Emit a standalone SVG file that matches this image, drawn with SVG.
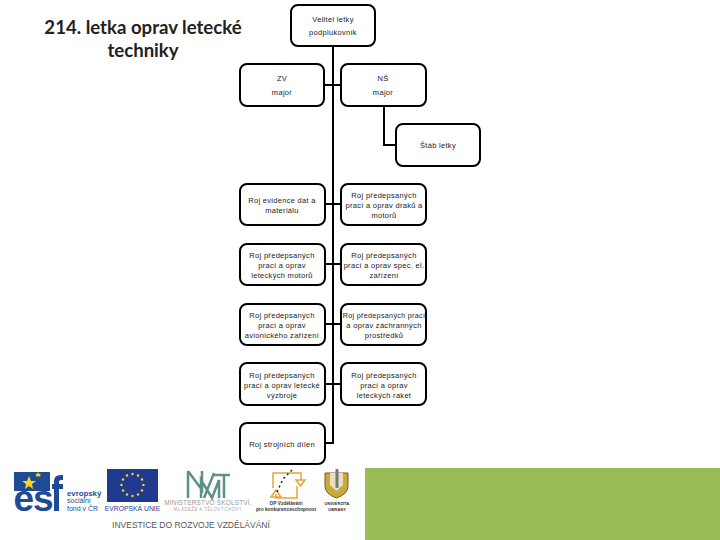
<svg xmlns="http://www.w3.org/2000/svg" width="720" height="540" viewBox="0 0 720 540">
<style>
.b{fill:#fff;stroke:#000;stroke-width:2}
.c{fill:none;stroke:#000;stroke-width:2}
text{font-family:"Liberation Sans",Arial,sans-serif;text-anchor:middle}
.t{font-size:7.500px;fill:#222;letter-spacing:.3px}
.h{font-family:Lato,"Open Sans",sans-serif;font-weight:700;font-size:18.600px;fill:#222}
</style>
<rect width="720" height="540" fill="#fff"/>
<rect x="365" y="468" width="355" height="72" fill="#9bbb59"/>
<g id="title"><text class="h" x="143" y="34">214. letka oprav letecké</text><text class="h" x="143" y="57">techniky</text></g>
<g id="connectors">
<path class="c" d="M333 46V444M324 85H341M384 106V145H396M325 204H341M325 264H341M325 324H341M325 384H341M325 443H333"/>
</g>
<g id="n-velitel"><rect class="b" x="291" y="5" width="84" height="41" rx="7"/><text class="t" x="333" y="22">Velitel letky</text><text class="t" x="333" y="35">podplukovník</text></g>
<g id="n-zv"><rect class="b" x="240" y="64" width="84" height="42" rx="7"/><text class="t" x="282" y="81">ZV</text><text class="t" x="282" y="95">major</text></g>
<g id="n-ns"><rect class="b" x="341" y="64" width="85" height="42" rx="7"/><text class="t" x="383" y="81">NŠ</text><text class="t" x="383" y="95">major</text></g>
<g id="n-stab"><rect class="b" x="396" y="124" width="84" height="42" rx="7"/><text class="t" x="438" y="148">Štáb letky</text></g>
<g id="n-r1l"><rect class="b" x="240" y="184" width="85" height="41" rx="7"/><text class="t" x="282" y="203">Roj evidence dat a</text><text class="t" x="282" y="213">materiálu</text></g>
<g id="n-r1r"><rect class="b" x="341" y="184" width="85" height="41" rx="7"/><text class="t" x="384" y="198">Roj předepsaných</text><text class="t" x="384" y="208">prací a oprav draků a</text><text class="t" x="384" y="218">motorů</text></g>
<g id="n-r2l"><rect class="b" x="240" y="244" width="85" height="41" rx="7"/><text class="t" x="282" y="258">Roj předepsaných</text><text class="t" x="282" y="268">prací a oprav</text><text class="t" x="282" y="278">leteckých motorů</text></g>
<g id="n-r2r"><rect class="b" x="341" y="244" width="85" height="41" rx="7"/><text class="t" x="384" y="258">Roj předepsaných</text><text class="t" x="384" y="268">prací a oprav spec. el.</text><text class="t" x="384" y="278">zařízení</text></g>
<g id="n-r3l"><rect class="b" x="240" y="304" width="85" height="41" rx="7"/><text class="t" x="282" y="318">Roj předepsaných</text><text class="t" x="282" y="328">prací a oprav</text><text class="t" x="282" y="338">avionického zařízení</text></g>
<g id="n-r3r"><rect class="b" x="341" y="304" width="85" height="41" rx="7"/><text class="t" x="384" y="318" style="font-size:7.200px">Roj předepsaných prací</text><text class="t" x="384" y="328">a oprav záchranných</text><text class="t" x="384" y="338">prostředků</text></g>
<g id="n-r4l"><rect class="b" x="240" y="363" width="85" height="42" rx="7"/><text class="t" x="282" y="378">Roj předepsaných</text><text class="t" x="282" y="388">prací a oprav letecké</text><text class="t" x="282" y="398">výzbroje</text></g>
<g id="n-r4r"><rect class="b" x="341" y="363" width="85" height="42" rx="7"/><text class="t" x="384" y="378">Roj předepsaných</text><text class="t" x="384" y="388">prací a oprav</text><text class="t" x="384" y="398">leteckých raket</text></g>
<g id="n-r5"><rect class="b" x="240" y="423" width="85" height="41" rx="7"/><text class="t" x="282" y="447">Roj strojních dílen</text></g>
<g id="logos">
<g id="esf">
<path d="M14 472H50V491H14Z" fill="#1f4a94"/>
<path d="M29 476l2 5 5 0-4 3 1 5-4-3-4 3 1-5-4-3 5 0z" fill="#ffd21f"/>
<path d="M38 472l1 2 2 0-1 1 .5 2-2.500-1-2 1 .5-2-1.500-1 2 0z" fill="#ffd21f"/>
<text x="33" y="511" style="font-size:37px;font-weight:700;fill:#1f4a94;letter-spacing:-1px">es</text>
<path d="M54 511V489H52V484H54V481q0-6 7-6h2v5h-2q-2 0-2 2v2h4v5h-4v22z" fill="#1f4a94"/>
<text x="67" y="496" style="font-size:7.800px;font-weight:700;fill:#1f4a94;text-anchor:start">evropský</text>
<text x="67" y="503" style="font-size:7px;fill:#1f4a94;text-anchor:start">sociální</text>
<text x="67" y="511" style="font-size:7px;fill:#1f4a94;text-anchor:start">fond v ČR</text>
</g>
<g id="eu">
<rect x="107" y="469" width="51" height="33" fill="#1f3a8f"/>
<g fill="#ffd21f"><circle cx="132.500" cy="474" r="1.200"/><circle cx="138" cy="475.500" r="1.200"/><circle cx="142" cy="479.500" r="1.200"/><circle cx="143.500" cy="485" r="1.200"/><circle cx="142" cy="490.500" r="1.200"/><circle cx="138" cy="494.500" r="1.200"/><circle cx="132.500" cy="496" r="1.200"/><circle cx="127" cy="494.500" r="1.200"/><circle cx="123" cy="490.500" r="1.200"/><circle cx="121.500" cy="485" r="1.200"/><circle cx="123" cy="479.500" r="1.200"/><circle cx="127" cy="475.500" r="1.200"/></g>
<text x="132.500" y="511" style="font-size:6.800px;fill:#1f3a8f">EVROPSKÁ UNIE</text>
</g>
<g id="msmt">
<path d="M188 471L202 490V471M188 471V498M204 498L214 473M201 498V480L212 498L219 480V498M214 475H230M224 475V498" fill="none" stroke="#5f9088" stroke-width="2.500"/>
<text x="208" y="505" style="font-size:6.500px;fill:#999;letter-spacing:.15px">MINISTERSTVO ŠKOLSTVÍ,</text>
<text x="208" y="511" style="font-size:4.500px;fill:#aaa;letter-spacing:.4px">MLÁDEŽE A TĚLOVÝCHOVY</text>
</g>
<g id="op">
<path d="M273 488V473H301V480M276 494V498H297V486" fill="none" stroke="#e8a33d" stroke-width="1.500"/>
<path d="M271 497l5-7 5 7zM296 480h9l-4.500 6z" fill="none" stroke="#e8a33d" stroke-width="1.500"/>
<path d="M277 492L283 479 292 470" fill="none" stroke="#222" stroke-width="1.500" stroke-dasharray="2 3"/>
<text x="286" y="505" style="font-size:4.800px;font-weight:700;fill:#333">OP Vzdělávání</text>
<text x="286" y="511" style="font-size:4.800px;font-weight:700;fill:#333">pro konkurenceschopnost</text>
</g>
<g id="unob">
<path d="M325 473H348V486Q348 494 336.500 498Q325 494 325 486Z" fill="#c8a93c" stroke="#7a5a20"/>
<path d="M330 473H343V485L336.500 491L330 485Z" fill="#e8e0c0"/>
<path d="M337 469V488" stroke="#777" stroke-width="3"/>
<text x="337" y="505" style="font-size:4.200px;font-weight:700;fill:#333">UNIVERZITA</text>
<text x="337" y="511" style="font-size:4.200px;font-weight:700;fill:#333">OBRANY</text>
</g>
<text x="191" y="528" style="font-size:8.500px;fill:#555">INVESTICE DO ROZVOJE VZDĚLÁVÁNÍ</text>
</g>
</svg>
